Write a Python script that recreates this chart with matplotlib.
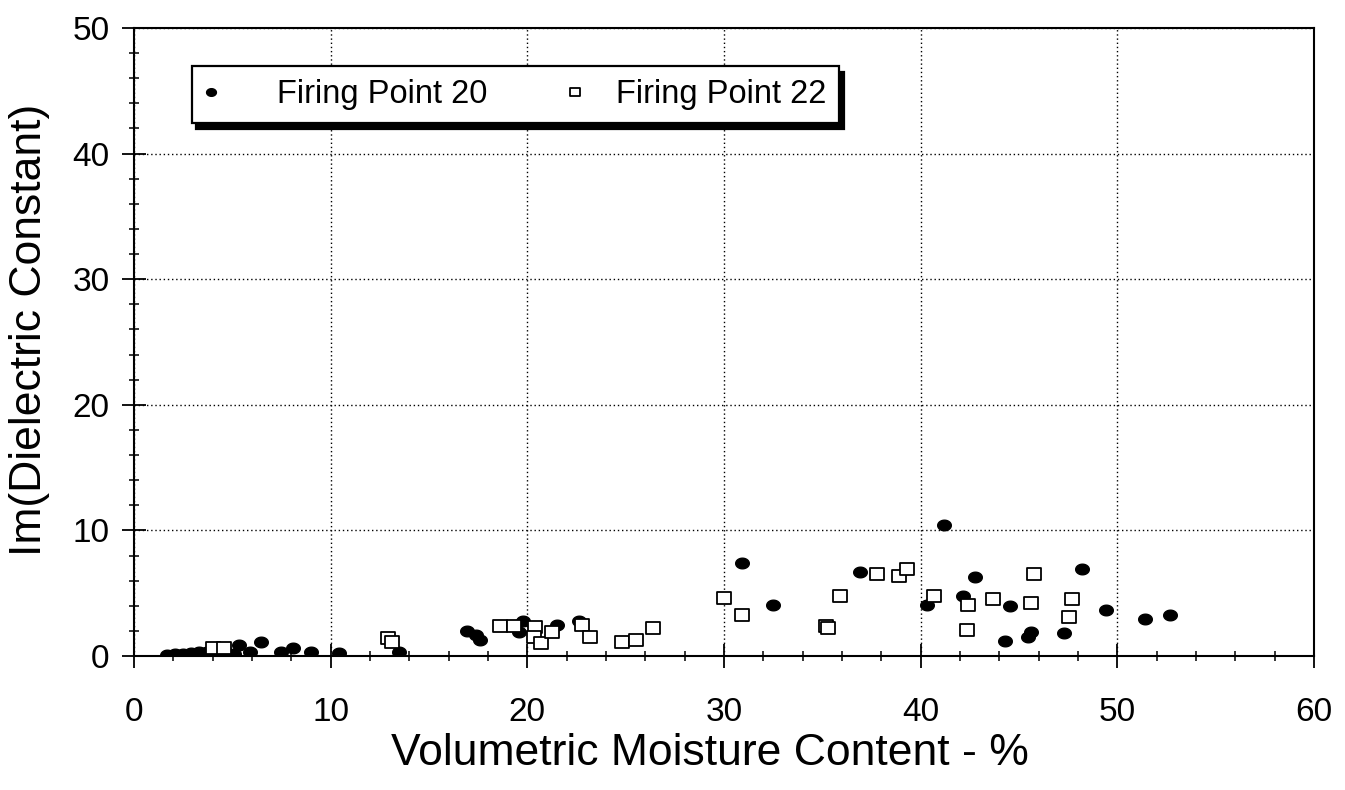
import numpy as np
import matplotlib
matplotlib.use("Agg")
import matplotlib.pyplot as plt
from matplotlib.path import Path
from matplotlib.ticker import MultipleLocator
from matplotlib.legend_handler import HandlerLine2D

plt.rcParams['font.family'] = ['Liberation Sans', 'DejaVu Sans']

# Firing Point 20 (filled circles)
fp20_x = [1.7, 2.1, 2.5, 2.9, 3.3, 3.7, 4.2, 4.6, 5.1, 5.35, 5.9, 6.45, 7.5, 8.1, 9.0, 10.4,
          13.45, 16.95, 17.4, 17.6, 19.6, 19.8, 21.5, 22.65, 30.9, 32.5, 36.9, 40.3, 41.2,
          42.15, 42.75, 44.3, 44.56, 45.46, 45.6, 47.3, 48.2, 49.4, 51.4, 52.7]
fp20_y = [0.1, 0.15, 0.2, 0.25, 0.3, 0.3, 0.4, 0.45, 0.2, 0.9, 0.35, 1.1, 0.35, 0.6, 0.35, 0.25,
          0.35, 2.0, 1.7, 1.3, 1.95, 2.75, 2.5, 2.75, 7.4, 4.1, 6.7, 4.1, 10.4,
          4.75, 6.3, 1.2, 3.95, 1.55, 1.95, 1.8, 6.95, 3.7, 2.95, 3.3]

# Firing Point 22 (open squares)
fp22_x = [4.0, 4.6, 12.9, 13.1, 18.6, 19.3, 20.4, 20.35, 20.7, 21.25, 22.8, 23.2, 24.8, 25.5,
          26.4, 30.0, 30.9, 35.2, 35.3, 35.9, 37.8, 38.9, 39.3, 40.7, 42.4, 42.35, 43.7,
          45.6, 45.75, 47.55, 47.7]
fp22_y = [0.6, 0.6, 1.4, 1.15, 2.4, 2.4, 2.3, 1.55, 1.06, 1.95, 2.5, 1.55, 1.15, 1.3,
          2.2, 4.6, 3.3, 2.35, 2.2, 4.75, 6.5, 6.35, 6.9, 4.75, 4.1, 2.1, 4.5,
          4.2, 6.55, 3.1, 4.5]

x_ticks = [0, 10, 20, 30, 40, 50, 60]
y_ticks = [0, 10, 20, 30, 40, 50]

# slightly flattened marker shapes (as in the scanned original)
t = np.linspace(0, 2 * np.pi, 60)
ellipse = Path(np.column_stack([np.cos(t), 0.78 * np.sin(t)]), closed=True)
rect = Path([(-1, -0.78), (1, -0.78), (1, 0.78), (-1, 0.78), (-1, -0.78)], closed=True)


class ShiftedHandler(HandlerLine2D):
    """Legend handler that moves the marker horizontally inside its handle box."""
    def __init__(self, shift, **kw):
        super().__init__(**kw)
        self.shift = shift

    def create_artists(self, legend, orig_handle, xdescent, ydescent, width, height,
                       fontsize, trans):
        artists = super().create_artists(legend, orig_handle, xdescent, ydescent,
                                         width, height, fontsize, trans)
        for a in artists:
            a.set_xdata(np.asarray(a.get_xdata(), dtype=float) + self.shift)
        return artists


fig = plt.figure(figsize=(13.45, 7.9), dpi=100)
ax = fig.add_axes([0.0996, 0.1696, 0.8774, 0.795])

h20, = ax.plot(fp20_x, fp20_y, linestyle='none', marker=ellipse, markersize=9.8,
               color='black', label='Firing Point 20')
h22, = ax.plot(fp22_x, fp22_y, linestyle='none', marker=rect, markersize=10.2,
               markerfacecolor='white', markeredgecolor='black', markeredgewidth=1.3,
               label='Firing Point 22')

ax.set_xlim(0, 60)
ax.set_ylim(0, 50)
ax.set_xticks(x_ticks)
ax.set_yticks(y_ticks)
ax.xaxis.set_minor_locator(MultipleLocator(2))
ax.yaxis.set_minor_locator(MultipleLocator(2))
ax.tick_params(axis='both', which='major', direction='inout', length=17, width=1.3,
               labelsize=24, colors='black')
ax.tick_params(axis='both', which='minor', direction='inout', length=6.5, width=1.1)
ax.tick_params(axis='x', which='major', pad=21)
ax.tick_params(axis='y', which='major', pad=9)
ax.grid(True, which='major', linestyle=(0, (1, 2)), color='black', linewidth=1.0)
for s in ax.spines.values():
    s.set_linewidth(1.5)

ax.set_xlabel('Volumetric Moisture Content - %', fontsize=32)
ax.xaxis.set_label_coords(0.488, -0.122)
ax.set_ylabel('Im(Dielectric Constant)', fontsize=32)
ax.yaxis.set_label_coords(-0.071, 0.52)

leg = ax.legend(handles=[h20, h22], loc='upper left', bbox_to_anchor=(0.049, 0.939),
                borderaxespad=0, ncol=2, fontsize=23.5,
                frameon=True, fancybox=False, markerscale=0.72, handletextpad=1.0,
                columnspacing=1.75, borderpad=0.4, handlelength=1.2,
                handler_map={h20: ShiftedHandler(-9.9), h22: ShiftedHandler(8.1)},
                shadow={'color': 'black', 'alpha': 1.0, 'ox': 3, 'oy': -4})
leg.get_frame().set_edgecolor('black')
leg.get_frame().set_linewidth(1.6)
leg.get_frame().set_alpha(1.0)

fig.savefig('out.png', dpi=100)
